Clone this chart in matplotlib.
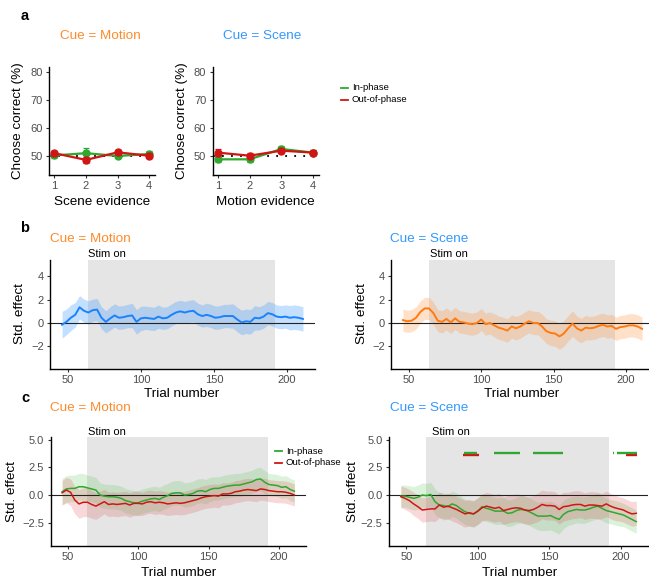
import matplotlib
matplotlib.use("Agg")
import matplotlib.pyplot as plt
from matplotlib.lines import Line2D
import numpy as np

plt.rcParams['font.family'] = ['Liberation Sans', 'DejaVu Sans']

W, H = 649, 579

# ---------------- data ----------------
evidence = [1, 2, 3, 4]
# panel a: percent correct by evidence level
motion_in = [50.2, 51.0, 50.0, 50.7]
motion_in_err = [1.0, 1.8, 0.9, 1.0]
motion_out = [51.0, 48.6, 51.3, 50.1]
motion_out_err = [0.9, 1.0, 1.0, 0.8]
scene_in = [48.8, 48.8, 52.5, 51.2]
scene_in_err = [1.0, 1.0, 1.0, 0.9]
scene_out = [51.2, 50.1, 51.9, 51.2]
scene_out_err = [1.3, 1.0, 0.9, 0.9]

trials = list(range(46, 212, 3))

# panel b: standardized effect, sliding window
b_motion = [-0.15, 0.1, 0.45, 0.7, 1.35, 1.05, 0.9, 1.1, 1.15, 0.45, 0.1, 0.4, 0.65, 0.45,
            0.5, 0.6, 0.65, 0.1, 0.4, 0.45, 0.4, 0.35, 0.55, 0.4, 0.45, 0.7, 0.9, 1.0,
            0.9, 1.0, 1.05, 0.75, 0.6, 0.7, 0.6, 0.45, 0.5, 0.6, 0.6, 0.6, 0.3, 0.05,
            0.15, 0.1, 0.45, 0.4, 0.55, 0.85, 0.75, 0.55, 0.5, 0.55, 0.45, 0.5, 0.45, 0.35]
b_motion_hw = [1.15, 1.1, 1.1, 1.05, 1.0, 1.0, 1.0, 0.95, 0.95, 0.95, 0.95, 1.0, 1.0, 1.0,
               1.0, 1.0, 1.05, 1.05, 1.05, 1.0, 1.0, 1.0, 1.0, 0.95, 0.95, 0.95, 0.95, 0.95,
               0.95, 0.95, 0.95, 0.95, 0.95, 1.0, 1.0, 1.0, 1.0, 1.0, 1.0, 1.05, 1.05, 1.05,
               1.05, 1.05, 1.05, 1.0, 1.0, 1.0, 1.0, 1.0, 1.0, 1.0, 1.05, 1.05, 1.05, 1.05]
b_scene = [0.25, 0.15, 0.2, 0.45, 0.95, 1.25, 1.25, 0.85, 0.2, 0.1, 0.35, 0.05, 0.4, 0.1,
           0.05, -0.05, -0.1, 0.0, 0.3, -0.1, 0.0, -0.2, -0.4, -0.5, -0.65, -0.3, -0.45, -0.3,
           -0.05, 0.15, 0.0, 0.0, -0.3, -0.7, -0.85, -0.9, -1.15, -0.9, -0.45, -0.05, -0.45, -0.65,
           -0.4, -0.45, -0.4, -0.25, -0.15, -0.3, -0.25, -0.5, -0.35, -0.3, -0.2, -0.2, -0.3, -0.5]
b_scene_hw = [0.95, 0.95, 0.95, 0.95, 0.95, 0.95, 0.95, 0.95, 0.95, 0.95, 0.95, 0.95, 0.95, 0.95,
              0.95, 0.95, 0.95, 0.95, 0.95, 0.95, 0.95, 1.0, 1.0, 1.0, 1.0, 1.0, 1.0, 1.0,
              1.0, 1.0, 1.0, 1.0, 1.05, 1.05, 1.1, 1.1, 1.1, 1.1, 1.1, 1.1, 1.05, 1.05,
              1.05, 1.0, 1.0, 1.0, 1.0, 1.0, 1.0, 1.0, 1.0, 1.0, 1.0, 1.0, 1.0, 1.0]

# panel c: in-phase vs out-of-phase
c_motion_in = [0.3, 0.55, 0.6, 0.6, 0.75, 0.75, 0.65, 0.55, 0.45, 0.0, -0.1, -0.15, -0.15, -0.2,
               -0.3, -0.5, -0.6, -0.7, -0.7, -0.55, -0.45, -0.35, -0.3, -0.4, -0.2, -0.05, 0.15, 0.2,
               0.2, 0.0, 0.05, 0.15, 0.35, 0.4, 0.3, 0.5, 0.6, 0.6, 0.7, 0.8, 0.85, 0.9,
               0.9, 1.0, 1.1, 1.2, 1.4, 1.45, 1.15, 0.95, 0.9, 0.85, 0.7, 0.75, 0.5, 0.35]
c_motion_in_hw = [1.2, 1.2, 1.2, 1.2, 1.2, 1.2, 1.15, 1.15, 1.15, 1.1, 1.1, 1.1, 1.1, 1.1,
                  1.1, 1.1, 1.1, 1.1, 1.1, 1.1, 1.1, 1.1, 1.1, 1.1, 1.1, 1.1, 1.1, 1.1,
                  1.1, 1.1, 1.1, 1.1, 1.1, 1.1, 1.1, 1.1, 1.05, 1.05, 1.05, 1.05, 1.05, 1.05,
                  1.05, 1.05, 1.05, 1.05, 1.05, 1.05, 1.05, 1.0, 1.0, 1.0, 1.0, 1.0, 1.0, 1.0]
c_motion_out = [0.2, 0.45, 0.25, -0.45, -0.8, -0.65, -0.65, -0.85, -1.0, -0.8, -0.6, -0.85, -0.8, -0.85,
                -0.8, -0.75, -0.9, -0.75, -0.75, -0.8, -0.65, -0.6, -0.7, -0.65, -0.7, -0.8, -0.75, -0.7,
                -0.75, -0.7, -0.6, -0.5, -0.4, -0.25, -0.15, -0.1, -0.05, -0.1, 0.1, 0.1, 0.15, 0.3,
                0.35, 0.45, 0.5, 0.45, 0.4, 0.55, 0.5, 0.4, 0.35, 0.3, 0.3, 0.25, 0.15, 0.0]
c_motion_out_hw = [1.1, 1.15, 1.2, 1.25, 1.3, 1.3, 1.3, 1.25, 1.2, 1.15, 1.1, 1.1, 1.1, 1.1,
                   1.1, 1.1, 1.1, 1.1, 1.1, 1.05, 1.05, 1.05, 1.05, 1.05, 1.05, 1.05, 1.05, 1.05,
                   1.05, 1.05, 1.05, 1.05, 1.05, 1.05, 1.05, 1.05, 1.05, 1.05, 1.0, 1.0, 1.0, 1.0,
                   1.0, 1.0, 1.0, 1.0, 1.0, 1.0, 1.0, 1.0, 1.0, 1.0, 1.0, 1.0, 1.0, 1.0]
c_scene_in = [-0.1, -0.1, -0.2, -0.3, -0.2, 0.0, -0.05, 0.05, -0.6, -0.9, -0.95, -1.05, -0.8, -0.95,
              -1.25, -1.5, -1.65, -1.7, -1.45, -1.05, -1.2, -1.3, -1.45, -1.45, -1.45, -1.65, -1.6, -1.4,
              -1.3, -1.35, -1.5, -1.7, -1.9, -1.9, -1.9, -1.85, -2.05, -2.2, -1.75, -1.5, -1.4, -1.3,
              -1.35, -1.35, -1.25, -1.1, -1.0, -1.2, -1.4, -1.5, -1.6, -1.7, -1.8, -2.0, -2.2, -2.4]
c_scene_in_hw = [1.0, 1.0, 1.05, 1.05, 1.1, 1.1, 1.1, 1.1, 1.15, 1.15, 1.15, 1.15, 1.15, 1.15,
                 1.15, 1.15, 1.15, 1.15, 1.2, 1.2, 1.2, 1.2, 1.2, 1.2, 1.2, 1.2, 1.2, 1.2,
                 1.25, 1.25, 1.25, 1.25, 1.25, 1.3, 1.3, 1.3, 1.3, 1.3, 1.3, 1.25, 1.25, 1.2,
                 1.2, 1.2, 1.15, 1.15, 1.15, 1.1, 1.1, 1.1, 1.1, 1.1, 1.05, 1.05, 1.05, 1.05]
c_scene_out = [-0.15, -0.3, -0.5, -0.8, -1.05, -1.35, -1.3, -1.25, -1.25, -0.9, -1.1, -1.0, -1.15, -1.3,
               -1.5, -1.7, -1.6, -1.7, -1.45, -1.15, -1.0, -1.1, -1.2, -1.1, -1.4, -1.3, -1.2, -1.15,
               -1.2, -1.35, -1.4, -1.3, -1.1, -0.85, -0.95, -0.95, -1.0, -1.3, -1.05, -1.0, -0.9, -0.85,
               -0.85, -1.0, -0.9, -0.9, -0.95, -1.0, -0.8, -1.0, -1.15, -1.25, -1.35, -1.55, -1.7, -1.65]
c_scene_out_hw = [0.95, 1.0, 1.0, 1.05, 1.05, 1.1, 1.1, 1.1, 1.15, 1.15, 1.15, 1.15, 1.2, 1.2,
                  1.2, 1.2, 1.2, 1.2, 1.2, 1.2, 1.25, 1.25, 1.25, 1.25, 1.25, 1.25, 1.25, 1.25,
                  1.25, 1.25, 1.25, 1.25, 1.3, 1.3, 1.3, 1.3, 1.3, 1.3, 1.3, 1.25, 1.25, 1.25,
                  1.2, 1.2, 1.2, 1.2, 1.2, 1.15, 1.15, 1.15, 1.15, 1.1, 1.1, 1.1, 1.1, 1.1]

# trial ranges flagged as significant (Cue = Scene)
sig_in = [(91, 99), (112, 129), (139, 159), (195, 195), (198, 211)]
sig_out = [(90, 100), (204, 211)]

stim_on = (64, 192)

# ---------------- styles ----------------
ORANGE = '#FF8A2A'
BLUE = '#3399FF'
LINE_BLUE = '#1A82FF'
LINE_ORANGE = '#FF7A10'
GREEN = '#2EA82E'
RED = '#D01515'
TICK_GREY = '#4D4D4D'
STIM_GREY = '#E5E5E5'

fig = plt.figure(figsize=(W / 100, H / 100), dpi=100)


def px_axes(l, t, r, b):
    return fig.add_axes([l / W, 1 - b / H, (r - l) / W, (b - t) / H])


def ftext(x, y, s, **kw):
    kw.setdefault('va', 'center')
    fig.text(x / W, 1 - y / H, s, **kw)


def style(ax):
    for s in ['top', 'right']:
        ax.spines[s].set_visible(False)
    for s in ['left', 'bottom']:
        ax.spines[s].set_linewidth(1.0)
        ax.spines[s].set_color('black')
    ax.tick_params(length=2.5, width=0.8, color='#333333', labelcolor=TICK_GREY,
                   labelsize=8, pad=2)
    ax.set_facecolor('none')


# ---------------- panel a ----------------
def evidence_panel(ax, inn, inn_e, out, out_e):
    style(ax)
    ax.set_xlim(0.83, 4.17)
    ax.set_ylim(43.2, 81.8)
    ax.axhline(50, color='black', lw=1.3, ls=(0, (1, 4)), zorder=1)
    ax.errorbar(evidence, inn, yerr=inn_e, color=GREEN, lw=1.6, marker='o', ms=5,
                capsize=2, elinewidth=0.9, capthick=0.9, zorder=3)
    ax.errorbar(evidence, out, yerr=out_e, color=RED, lw=1.6, marker='o', ms=5,
                capsize=2, elinewidth=0.9, capthick=0.9, zorder=4)
    ax.set_xticks(evidence)
    ax.set_yticks([50, 60, 70, 80])


a1 = px_axes(49, 67, 154.5, 175)
evidence_panel(a1, motion_in, motion_in_err, motion_out, motion_out_err)
a2 = px_axes(212.5, 67, 318.5, 175)
evidence_panel(a2, scene_in, scene_in_err, scene_out, scene_out_err)

ftext(100, 36, 'Cue = Motion', color=ORANGE, fontsize=9.7, ha='center')
ftext(262, 36, 'Cue = Scene', color=BLUE, fontsize=9.7, ha='center')
ftext(18, 121, 'Choose correct (%)', fontsize=9.7, rotation=90, ha='center')
ftext(182, 121, 'Choose correct (%)', fontsize=9.7, rotation=90, ha='center')
ftext(102, 202, 'Scene evidence', fontsize=9.7, ha='center')
ftext(265, 202, 'Motion evidence', fontsize=9.7, ha='center')


def legend(x, y0, dy):
    for i, (c, lab) in enumerate([(GREEN, 'In-phase'), (RED, 'Out-of-phase')]):
        y = y0 + i * dy
        fig.add_artist(Line2D([x / W, (x + 7) / W], [1 - y / H, 1 - y / H], color=c, lw=1.3))
        ftext(x + 11, y, lab, fontsize=6.8, ha='left')


legend(341, 88, 11.5)

# ---------------- panels b and c ----------------
def time_panel(ax, ylim, yticks, fmt):
    style(ax)
    ax.set_xlim(37.75, 219.25)
    ax.set_ylim(*ylim)
    ax.axvspan(*stim_on, color=STIM_GREY, lw=0, zorder=0)
    ax.axhline(0, color='#222222', lw=0.8, zorder=2)
    ax.set_xticks([50, 100, 150, 200])
    ax.set_yticks(yticks)
    ax.set_yticklabels([fmt(v) for v in yticks])


def band(ax, mean, hw, line_color, fill_color, alpha, lw):
    m = np.array(mean)
    h = np.array(hw)
    ax.fill_between(trials, m - h, m + h, color=fill_color, alpha=alpha, lw=0, zorder=1)
    ax.plot(trials, m, color=line_color, lw=lw, zorder=3)


fmt_b = lambda v: f'{v:g}'.replace('-', '\u2212')
fmt_c = lambda v: f'{v:.1f}'.replace('-', '\u2212')

b1 = px_axes(50, 260, 315, 369)
time_panel(b1, (-3.94, 5.4), [-2, 0, 2, 4], fmt_b)
band(b1, b_motion, b_motion_hw, LINE_BLUE, '#3D9BFF', 0.3, 1.4)

b2 = px_axes(391, 260, 654, 369)
time_panel(b2, (-3.94, 5.4), [-2, 0, 2, 4], fmt_b)
band(b2, b_scene, b_scene_hw, LINE_ORANGE, '#FF9A4A', 0.3, 1.4)

c1 = px_axes(50.5, 437, 306, 546)
time_panel(c1, (-4.6, 5.24), [-2.5, 0, 2.5, 5], fmt_c)
band(c1, c_motion_in, c_motion_in_hw, GREEN, '#5CC85C', 0.22, 1.1)
band(c1, c_motion_out, c_motion_out_hw, RED, '#E05050', 0.22, 1.1)

c2 = px_axes(389, 437, 648, 546)
time_panel(c2, (-4.6, 5.24), [-2.5, 0, 2.5, 5], fmt_c)
band(c2, c_scene_in, c_scene_in_hw, GREEN, '#5CC85C', 0.22, 1.1)
band(c2, c_scene_out, c_scene_out_hw, RED, '#E05050', 0.22, 1.1)
for s, e in sig_out:
    c2.plot([s - 0.5, e + 0.5], [3.57, 3.57], color=RED, lw=1.7, solid_capstyle='butt', zorder=4)
for s, e in sig_in:
    c2.plot([s - 0.5, e + 0.5], [3.82, 3.82], color=GREEN, lw=1.7, solid_capstyle='butt', zorder=5)

# titles and labels for b and c
ftext(50, 239, 'Cue = Motion', color=ORANGE, fontsize=9.7, ha='left')
ftext(390, 239, 'Cue = Scene', color=BLUE, fontsize=9.7, ha='left')
ftext(88, 254, 'Stim on', fontsize=8, ha='left')
ftext(430, 254, 'Stim on', fontsize=8, ha='left')
ftext(20, 314, 'Std. effect', fontsize=9.7, rotation=90, ha='center')
ftext(362, 314, 'Std. effect', fontsize=9.7, rotation=90, ha='center')
ftext(182, 394, 'Trial number', fontsize=9.7, ha='center')
ftext(522, 394, 'Trial number', fontsize=9.7, ha='center')

ftext(50, 408, 'Cue = Motion', color=ORANGE, fontsize=9.7, ha='left')
ftext(390, 408, 'Cue = Scene', color=BLUE, fontsize=9.7, ha='left')
ftext(88, 432, 'Stim on', fontsize=8, ha='left')
ftext(432, 432, 'Stim on', fontsize=8, ha='left')
ftext(12, 492, 'Std. effect', fontsize=9.7, rotation=90, ha='center')
ftext(353, 492, 'Std. effect', fontsize=9.7, rotation=90, ha='center')
ftext(179, 573, 'Trial number', fontsize=9.7, ha='center')
ftext(520, 573, 'Trial number', fontsize=9.7, ha='center')

legend(275, 451, 11.5)

# panel letters
ftext(25, 16, 'a', fontsize=10.5, fontweight='bold', ha='center')
ftext(25, 228, 'b', fontsize=10.5, fontweight='bold', ha='center')
ftext(25, 398, 'c', fontsize=10.5, fontweight='bold', ha='center')

fig.savefig('out.png', dpi=100)
